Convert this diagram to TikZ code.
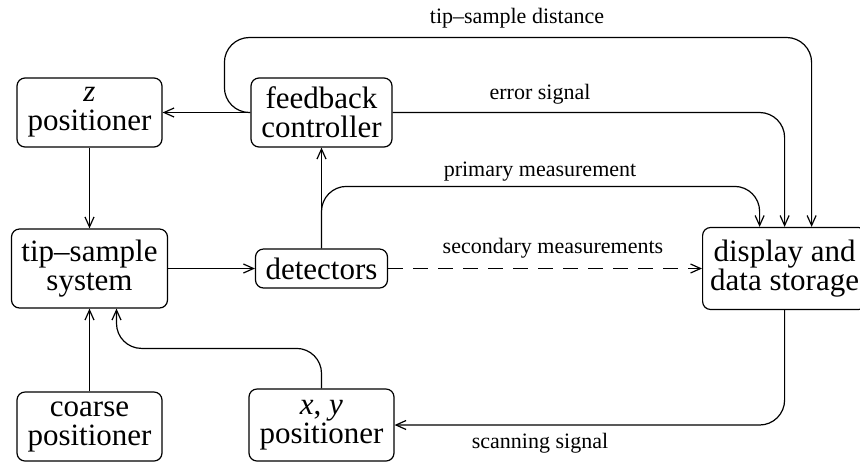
\documentclass[tikz,border=0pt]{standalone}
\usepackage{fontspec}
\setmainfont{Liberation Serif}
\usetikzlibrary{arrows.meta}
\tikzset{
  block/.style={draw, rounded corners=4pt, align=center, inner xsep=4pt, inner ysep=2pt,
    font=\fontsize{15.5}{14.5}\selectfont},
  lbl/.style={font=\fontsize{11}{13}\selectfont, inner sep=0pt},
  conn/.style={-{Straight Barb[length=5pt,width=4.5pt]}, rounded corners=12.5pt},
}

\begin{document}
\begin{tikzpicture}[x=0.5pt, y=-0.5pt, line width=0.6pt]
		\useasboundingbox (0,0) rectangle (860,462);
		
		%%%%% boxes %%%%%
		\node[block, minimum width=72.5pt, minimum height=34.5pt] (zpos) at (89.5,112.5) {\textit{z}\\positioner};
		\node[block, minimum width=70.5pt, minimum height=34.5pt] (fbc) at (321.5,112.5) {feedback\\controller};
		\node[block, minimum width=78pt, minimum height=39.5pt] (tss) at (89.5,268.5) {tip--sample\\system};
		\node[block, minimum width=66pt, minimum height=19.5pt] (det) at (321.5,268.5) {detectors};
		\node[block, minimum width=72.5pt, minimum height=34.5pt] (coarse) at (89.5,426.5) {coarse\\positioner};
		\node[block, minimum width=72.5pt, minimum height=36pt] (xypos) at (321.5,425) {\textit{x}, \textit{y}\\positioner};
		\node[block, anchor=west, inner xsep=1pt, minimum width=82pt, minimum height=41pt] (disp) at (702,268.5) {display and\\data storage};
		
		%%%%% connectors %%%%%
		\draw[conn] (fbc) -- (zpos);
		\draw[conn] (zpos) -- (tss);
		\draw[conn] (tss) -- (det);
		\draw[conn] (det) -- (fbc);
		\draw[conn] (coarse) -- (tss);
		\draw[conn] (xypos.north) -- ++(0,-40) -| ([xshift=13.5pt]tss.south);
		\draw[conn] (disp.south) |- (xypos.east);
		\draw[conn, dash pattern=on 7.5pt off 5pt] (det) -- (disp);
		\draw[conn] (det.north) -- ++(0,-62) -| ([xshift=-12.5pt]disp.north);
		\draw[conn] (fbc.east) -| (disp.north);
		\draw[conn] (fbc.west) -| ++(-26,-75) -| ([xshift=13.5pt]disp.north);
		
		%%%%% labels %%%%%
		\node[lbl] (ldist) at (517,18.5) {tip--sample distance};
		\node[lbl] (lerr) at (540,94.5) {error signal};
		\node[lbl] (lprim) at (540,172) {primary measurement};
		\node[lbl] (lsec) at (553,248.5) {secondary measurements};
		\node[lbl] (lscan) at (540,443.5) {scanning signal};
		
\end{tikzpicture}
\end{document}
